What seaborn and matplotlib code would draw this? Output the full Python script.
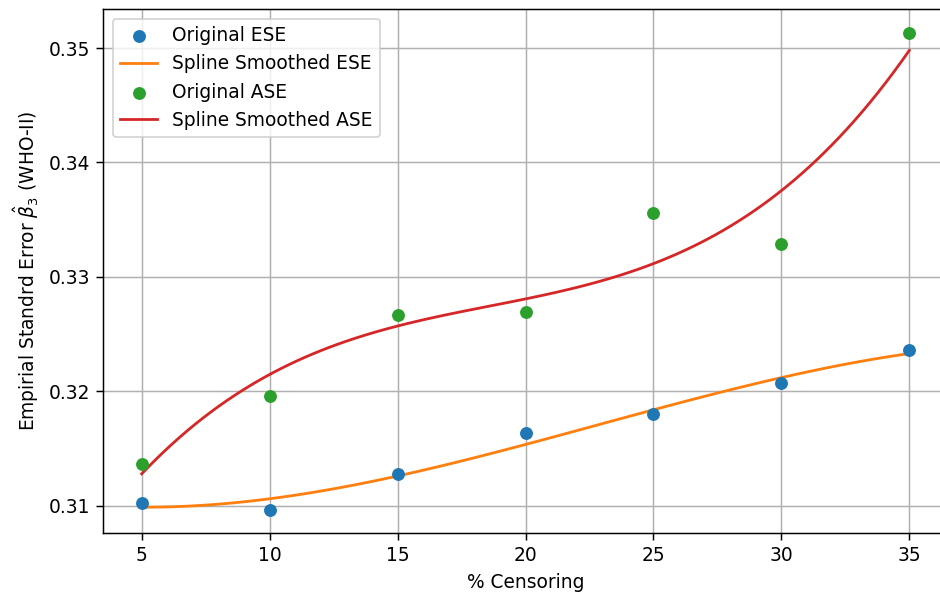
import matplotlib
matplotlib.use("Agg")
import matplotlib.pyplot as plt
import seaborn as sns
import numpy as np
import pandas as pd

# Data
censoring = [5, 10, 15, 20, 25, 30, 35]
ese = [0.31024, 0.30965, 0.31277, 0.31630, 0.31799, 0.32070, 0.32356]
ase = [0.31359, 0.31954, 0.32668, 0.32691, 0.33561, 0.33284, 0.35132]

df = pd.DataFrame({"censoring": censoring, "ese": ese, "ase": ase})

plt.rcParams["font.family"] = ["DejaVu Sans"]

DPI = 134
fig = plt.figure(figsize=(940 / DPI, 594 / DPI), dpi=DPI)
ax = fig.add_axes([0.1099, 0.1022, 0.8983, 0.8822])

sns.scatterplot(data=df, x="censoring", y="ese", color="#1f77b4", s=48,
                linewidth=0, ax=ax, label="Original ESE", zorder=3)
sns.regplot(data=df, x="censoring", y="ese", order=3, ci=None, scatter=False,
            color="#ff7f0e", line_kws={"linewidth": 1.5}, ax=ax, truncate=True)
ax.get_lines()[-1].set_label("Spline Smoothed ESE")

sns.scatterplot(data=df, x="censoring", y="ase", color="#2ca02c", s=48,
                linewidth=0, ax=ax, label="Original ASE", zorder=3)
sns.regplot(data=df, x="censoring", y="ase", order=3, ci=None, scatter=False,
            color="#d62728", line_kws={"linewidth": 1.5}, ax=ax, truncate=True)
ax.get_lines()[-1].set_label("Spline Smoothed ASE")

ax.set_xlim(3.5, 36.5)
ax.set_ylim(0.30757, 0.3534)
ax.set_xticks(censoring)
ax.set_yticks([0.31, 0.32, 0.33, 0.34, 0.35])
ax.grid(True, color="#b0b0b0", linewidth=0.8)
ax.set_axisbelow(True)

ax.set_xlabel("% Censoring")
ax.set_ylabel(r"Empirial Standrd Error $\hat{\beta}_3$ (WHO-II)")

handles, labels = ax.get_legend_handles_labels()
order = ["Original ESE", "Spline Smoothed ESE", "Original ASE", "Spline Smoothed ASE"]
hmap = dict(zip(labels, handles))
ax.legend([hmap[l] for l in order], order, loc="upper left")

fig.savefig("out.png", dpi=DPI)
